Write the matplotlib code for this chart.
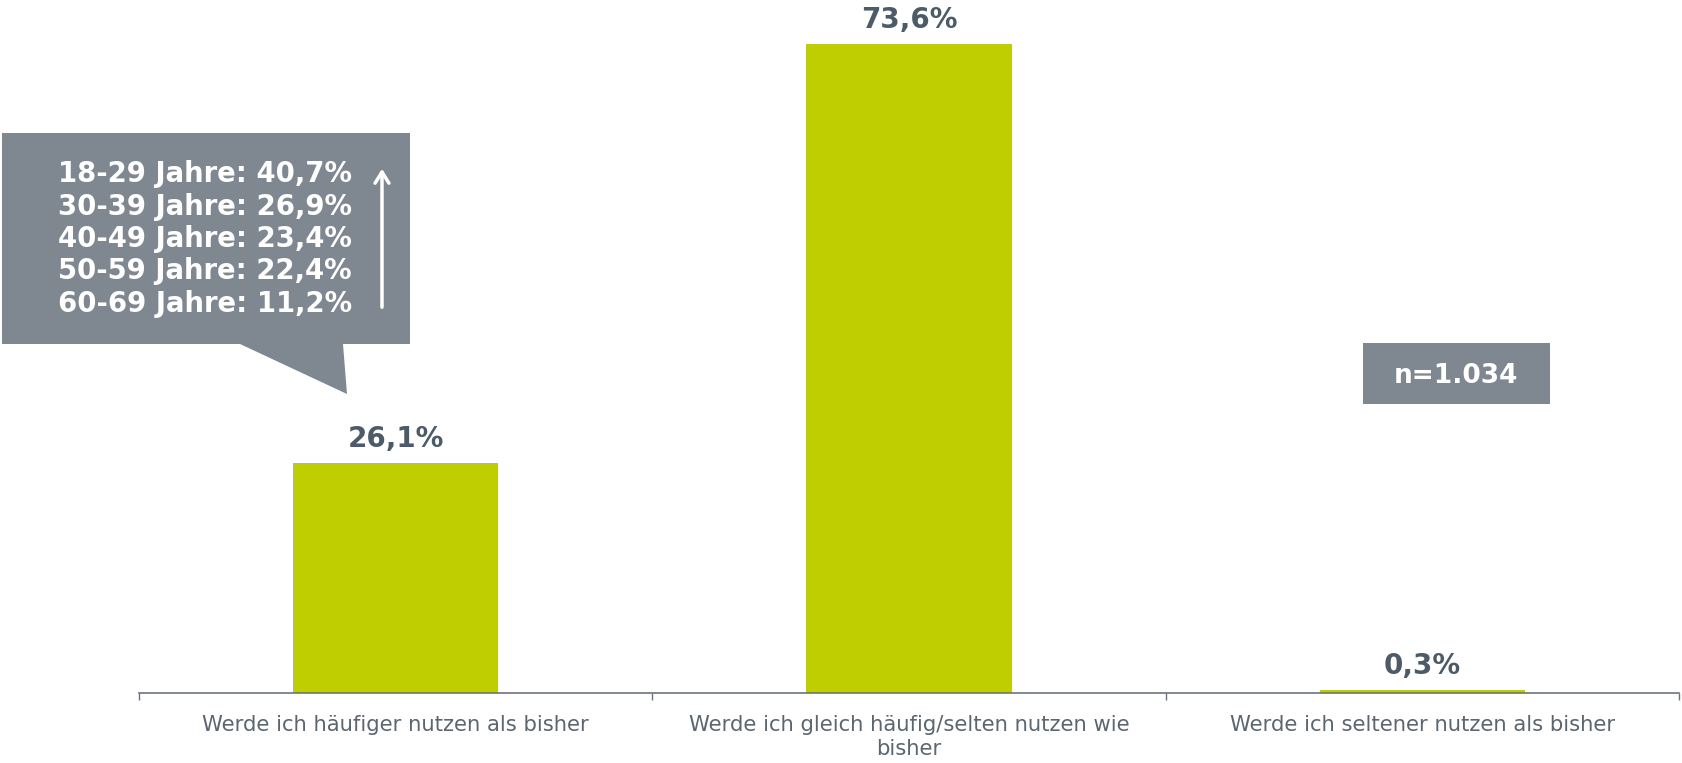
import matplotlib
matplotlib.use("Agg")
import matplotlib.pyplot as plt
from matplotlib.patches import Polygon, Rectangle, FancyArrowPatch

# data
categories = ["Werde ich häufiger nutzen als bisher",
              "Werde ich gleich häufig/selten nutzen wie\nbisher",
              "Werde ich seltener nutzen als bisher"]
values = [26.1, 73.6, 0.3]
age_groups = ["18-29", "30-39", "40-49", "50-59", "60-69"]
age_values = [40.7, 26.9, 23.4, 22.4, 11.2]
n_text = "n=1.034"

BAR = "#bfce00"
BOX = "#7f8891"
DARK = "#4d5a68"
LABEL = "#5b6670"

W, H = 1682, 763
fig = plt.figure(figsize=(W / 100, H / 100), dpi=100)


def px(x, y):
    # pixel position (from top left) -> figure fraction
    return (x / W, 1 - y / H)


ax = fig.add_axes([139 / W, (H - 693) / H, 1540 / W, 693 / H])
x = range(len(values))
ax.bar(x, values, width=0.4, color=BAR, zorder=2)
ax.set_xlim(-0.5, 2.5)
ax.set_ylim(0, 693 / 8.818)

for i, v in enumerate(values):
    lbl = f"{v:.1f}".replace(".", ",") + "%"
    ax.annotate(lbl, (i, v), xytext=(0, 11.5), textcoords="offset points",
                ha="center", va="baseline", fontsize=20, fontweight="bold",
                color=DARK)

ax.set_xticks([-0.5, 0.5, 1.5, 2.5])
ax.set_xticklabels([])
ax.set_xticks(list(x), minor=True)
ax.set_xticklabels(categories, minor=True, fontsize=15.2, color=LABEL,
                   linespacing=1.3)
ax.tick_params(axis="x", which="minor", length=0, pad=15.5)
ax.tick_params(axis="x", which="major", length=5, width=1, color="#6b7580")
ax.set_yticks([])
for s in ["top", "right", "left"]:
    ax.spines[s].set_visible(False)
ax.spines["bottom"].set_color("#6b7580")
ax.spines["bottom"].set_linewidth(1.2)

# callout with the age breakdown
pts = [(2, 133), (410, 133), (410, 344), (343, 344), (347, 394), (240, 344), (2, 344)]
fig.add_artist(Polygon([px(a, b) for a, b in pts], closed=True,
                       transform=fig.transFigure, facecolor=BOX, edgecolor="none"))
lines = [f"{a} Jahre: " + f"{v:.1f}".replace(".", ",") + "%"
         for a, v in zip(age_groups, age_values)]
fig.text(*px(58, 239), "\n".join(lines), ha="left", va="center",
         fontsize=19.8, fontweight="bold", color="white", linespacing=1.2)
fig.add_artist(FancyArrowPatch(
    px(382, 310), px(382, 166), transform=fig.transFigure,
    arrowstyle="->,head_length=8,head_width=5", color="white", lw=2.5,
    mutation_scale=1))

# sample size box
fig.add_artist(Rectangle(px(1363, 404), 187 / W, 61 / H,
                         transform=fig.transFigure, facecolor=BOX, edgecolor="none"))
fig.text(*px(1456, 376), n_text, ha="center", va="center",
         fontsize=19, fontweight="bold", color="white")

fig.savefig("out.png", dpi=100)
